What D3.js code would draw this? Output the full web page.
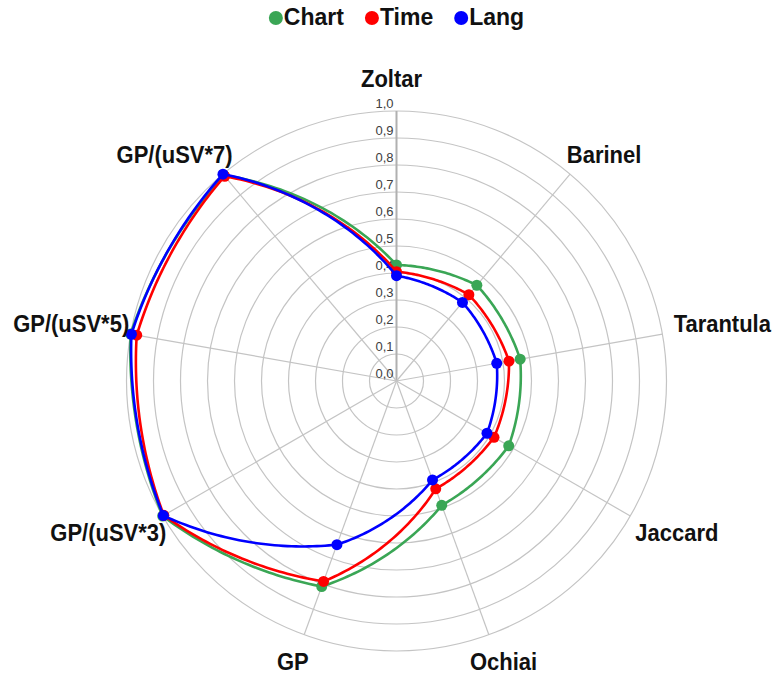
<!DOCTYPE html>
<html>
<head>
<meta charset="utf-8">
<script src="https://cdn.jsdelivr.net/npm/d3@7"></script>
<style>
  html, body { margin: 0; padding: 0; background: #fff; }
  svg { display: block; }
</style>
</head>
<body>
<svg id="chart" width="774" height="675"></svg>
<script>
// ---- data ----
const axes = ["Zoltar", "Barinel", "Tarantula", "Jaccard", "Ochiai", "GP", "GP/(uSV*3)", "GP/(uSV*5)", "GP/(uSV*7)"];
const seriesNames = ["Chart", "Time", "Lang"];
const chartValues = [0.43, 0.463, 0.465, 0.48, 0.49, 0.81, 1.0, 1.0, 0.995];
const timeValues  = [0.405, 0.417, 0.423, 0.417, 0.425, 0.79, 0.995, 0.977, 0.99];
const langValues  = [0.39, 0.38, 0.377, 0.387, 0.39, 0.645, 0.997, 0.997, 1.0];
const tickValues = [0, 0.1, 0.2, 0.3, 0.4, 0.5, 0.6, 0.7, 0.8, 0.9, 1.0];
const tickLabels = ["0,0", "0,1", "0,2", "0,3", "0,4", "0,5", "0,6", "0,7", "0,8", "0,9", "1,0"];

const series = [
  { name: seriesNames[0], values: chartValues, color: "#3aa655" },
  { name: seriesNames[1], values: timeValues,  color: "#ff0000" },
  { name: seriesNames[2], values: langValues,  color: "#0000ff" }
];

// ---- layout ----
const svg = d3.select("#chart");
const cx = 396.5, cy = 381, R = 270;
const rScale = d3.scaleLinear().domain([0, 1]).range([0, R]);
const angle = d3.scalePoint().domain(d3.range(axes.length + 1)).range([0, 2 * Math.PI]);
const ang = i => angle(i);
const g = svg.append("g").attr("transform", `translate(${cx},${cy})`);
const FONT = "Liberation Sans, Arial, sans-serif";

// rings
g.selectAll("circle.ring").data(tickValues.filter(v => v > 0)).join("circle")
  .attr("class", "ring")
  .attr("r", d => rScale(d))
  .attr("fill", "none")
  .attr("stroke", "#c4c4c4")
  .attr("stroke-width", 1.2);

// spokes
g.selectAll("line.spoke").data(axes).join("line")
  .attr("class", "spoke")
  .attr("x1", 0).attr("y1", 0)
  .attr("x2", (d, i) => rScale(1) * Math.sin(ang(i)))
  .attr("y2", (d, i) => -rScale(1) * Math.cos(ang(i)))
  .attr("stroke", (d, i) => i === 0 ? "#b0b0b0" : "#c4c4c4")
  .attr("stroke-width", (d, i) => i === 0 ? 2 : 1.2);

// tick labels
g.selectAll("text.tick").data(tickValues).join("text")
  .attr("class", "tick")
  .attr("x", -3)
  .attr("y", d => -rScale(d) - 3)
  .attr("text-anchor", "end")
  .attr("font-family", FONT)
  .attr("font-size", 13)
  .attr("fill", "#404040")
  .text((d, i) => tickLabels[i]);

// smoothed closed path: blend of straight segment and polar (radial) interpolation
const BLEND = 0.6, STEPS = 40;
function smoothPoints(values) {
  const n = values.length;
  const pts = [];
  for (let i = 0; i < n; i++) {
    const j = (i + 1) % n;
    const a0 = ang(i), a1 = ang(i + 1);
    const r0 = rScale(values[i]), r1 = rScale(values[j]);
    const x0 = r0 * Math.sin(a0), y0 = -r0 * Math.cos(a0);
    const x1 = r1 * Math.sin(a1), y1 = -r1 * Math.cos(a1);
    for (let k = 0; k < STEPS; k++) {
      const t = k / STEPS;
      const a = a0 + (a1 - a0) * t, r = r0 + (r1 - r0) * t;
      const px = r * Math.sin(a), py = -r * Math.cos(a);
      const lx = x0 + (x1 - x0) * t, ly = y0 + (y1 - y0) * t;
      pts.push([BLEND * px + (1 - BLEND) * lx, BLEND * py + (1 - BLEND) * ly]);
    }
  }
  return pts;
}
const lineGen = d3.line().curve(d3.curveLinearClosed);

series.forEach(s => {
  g.append("path")
    .attr("d", lineGen(smoothPoints(s.values)))
    .attr("fill", "none")
    .attr("stroke", s.color)
    .attr("stroke-width", 2.6)
    .attr("stroke-linejoin", "round");
  g.selectAll(null).data(s.values).join("circle")
    .attr("cx", (d, i) => rScale(d) * Math.sin(ang(i)))
    .attr("cy", (d, i) => -rScale(d) * Math.cos(ang(i)))
    .attr("r", 5.5)
    .attr("fill", s.color);
});

// axis labels
const fs = 22, cap = fs * 0.716 * 1.08;
axes.forEach((name, i) => {
  const a = ang(i), s = Math.sin(a), c = Math.cos(a);
  const as = Math.abs(s);
  const side = s > 0.01 ? 5 : (s < -0.01 ? -5 : 0);
  const nearVertical = as < 0.5;
  let px, py, anchor, baseline;
  if (nearVertical) {
    px = (308 + side) * s + (side === 0 ? -5 : 0);
    py = c > 0 ? -294 * c : -289 * c;
    anchor = "middle";
  } else {
    px = (260 + 48 * (as - 0.643) + side) * s;
    py = -285 * c;
    anchor = s > 0 ? "start" : "end";
  }
  baseline = c > 0 ? py : py + cap;
  g.append("text")
    .attr("transform", `translate(${px},${baseline}) scale(1,1.08)`)
    .attr("text-anchor", anchor)
    .attr("font-family", FONT)
    .attr("font-weight", "bold")
    .attr("font-size", fs)
    .attr("fill", "#111")
    .text(name);
});

// legend
const leg = svg.append("g");
const items = leg.selectAll("g").data(series).join("g");
items.append("circle").attr("r", 7).attr("fill", d => d.color).attr("cy", 18);
items.append("text")
  .attr("x", 8).attr("y", 25)
  .attr("font-family", FONT)
  .attr("font-weight", "bold")
  .attr("font-size", 23)
  .attr("fill", "#111")
  .text(d => d.name);
const gap = 21;
const widths = [];
items.each(function() {
  widths.push(d3.select(this).select("text").node().getComputedTextLength());
});
const total = d3.sum(widths.map(w => 7 + 8 + w)) + gap * (series.length - 1);
let start = cx - total / 2 + 7;
items.each(function(d, i) {
  d3.select(this).attr("transform", `translate(${start},0)`);
  start += 8 + widths[i] + gap + 7;
});
</script>
</body>
</html>
